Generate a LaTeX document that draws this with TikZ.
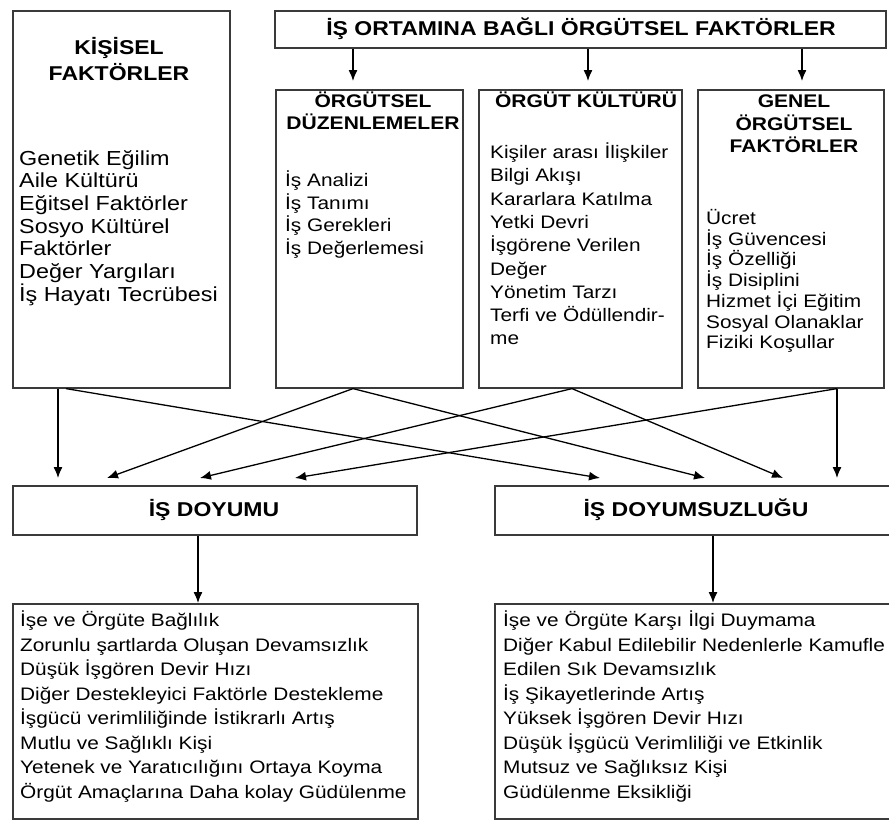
\documentclass[tikz,border=0pt]{standalone}
\usepackage{fontspec}
\setmainfont{Liberation Sans}[FakeStretch=1.15]
\usetikzlibrary{arrows.meta}
\definecolor{boxgray}{HTML}{3A3A3A}
\tikzset{
  box/.style={draw=boxgray, line width=1.6pt, inner sep=0pt, anchor=north west},
  arr/.style={line width=1.3pt, -{Latex[length=11pt,width=9pt]}},
  txt/.style={anchor=base west, inner sep=0pt},
  ttl/.style={anchor=base, inner sep=0pt},
}
\begin{document}
\begin{tikzpicture}[x=1pt,y=-1pt]
\useasboundingbox (0,0) rectangle (889,820);
% boxes
\node[box, minimum width=217pt, minimum height=377pt] (kis) at (12,10) {};
\node[box, minimum width=611pt, minimum height=37pt] (top) at (274,10) {};
\node[box, minimum width=187pt, minimum height=298pt] (dz) at (275,89) {};
\node[box, minimum width=203pt, minimum height=298pt] (kk) at (478,89) {};
\node[box, minimum width=186pt, minimum height=298pt] (gn) at (697,89) {};
\node[box, minimum width=404pt, minimum height=49pt] (doy) at (12,485) {};
\node[box, minimum width=404pt, minimum height=49pt] (dsz) at (494,485) {};
\node[box, minimum width=405pt, minimum height=215pt] (res1) at (12,603) {};
\node[box, minimum width=404pt, minimum height=215pt] (res2) at (494,603) {};

% titles
\node[ttl, font=\fontsize{20}{26}\selectfont\bfseries] (kist) at (119,54)
  {\begin{minipage}[t]{200pt}\centering KİŞİSEL\\FAKTÖRLER\end{minipage}};
\node[ttl, font=\fontsize{20}{25}\selectfont\bfseries] (topt) at (581,35.5)
  {İŞ ORTAMINA BAĞLI ÖRGÜTSEL FAKTÖRLER};
\node[ttl, font=\fontsize{18.3}{21.5}\selectfont\bfseries] (dzt) at (373,107.6)
  {\begin{minipage}[t]{185pt}\centering ÖRGÜTSEL\\DÜZENLEMELER\end{minipage}};
\node[ttl, font=\fontsize{18.3}{24}\selectfont\bfseries] (kkt) at (586,107.6)
  {ÖRGÜT KÜLTÜRÜ};
\node[ttl, font=\fontsize{18.3}{22.5}\selectfont\bfseries] (gnt) at (794,107.6)
  {\begin{minipage}[t]{180pt}\centering GENEL\\ÖRGÜTSEL\\FAKTÖRLER\end{minipage}};
\node[ttl, font=\fontsize{20}{24}\selectfont\bfseries] (doyt) at (214,516) {İŞ DOYUMU};
\node[ttl, font=\fontsize{20}{24}\selectfont\bfseries] (dszt) at (696,516) {İŞ DOYUMSUZLUĞU};

% item lists
\node[txt, font=\fontsize{20.3}{22.7}\selectfont] (kisi) at (19,165)
  {\begin{minipage}[t]{208pt}Genetik Eğilim\\Aile Kültürü\\Eğitsel Faktörler\\Sosyo Kültürel\\Faktörler\\Değer Yargıları\\İş Hayatı Tecrübesi\end{minipage}};
\node[txt, font=\fontsize{18.1}{22.7}\selectfont] (dzi) at (285,186.5)
  {\begin{minipage}[t]{175pt}İş Analizi\\İş Tanımı\\İş Gerekleri\\İş Değerlemesi\end{minipage}};
\node[txt, font=\fontsize{18.1}{23.3}\selectfont] (kki) at (490,158.5)
  {\begin{minipage}[t]{190pt}Kişiler arası İlişkiler\\Bilgi Akışı\\Kararlara Katılma\\Yetki Devri\\İşgörene Verilen\\Değer\\Yönetim Tarzı\\Terfi ve Ödüllendir-\\me\end{minipage}};
\node[txt, font=\fontsize{18.1}{20.7}\selectfont] (gni) at (706,224.5)
  {\begin{minipage}[t]{175pt}Ücret\\İş Güvencesi\\İş Özelliği\\İş Disiplini\\Hizmet İçi Eğitim\\Sosyal Olanaklar\\Fiziki Koşullar\end{minipage}};
\node[txt, font=\fontsize{18.1}{24.5}\selectfont] (r1i) at (20,626.5)
  {\begin{minipage}[t]{395pt}İşe ve Örgüte Bağlılık\\Zorunlu şartlarda Oluşan Devamsızlık\\Düşük İşgören Devir Hızı\\Diğer Destekleyici Faktörle Destekleme\\İşgücü verimliliğinde İstikrarlı Artış\\Mutlu ve Sağlıklı Kişi\\Yetenek ve Yaratıcılığını Ortaya Koyma\\Örgüt Amaçlarına Daha kolay Güdülenme\end{minipage}};
\node[txt, font=\fontsize{18.1}{24.5}\selectfont] (r2i) at (503,626.5)
  {\begin{minipage}[t]{395pt}İşe ve Örgüte Karşı İlgi Duymama\\Diğer Kabul Edilebilir Nedenlerle Kamufle\\Edilen Sık Devamsızlık\\İş Şikayetlerinde Artış\\Yüksek İşgören Devir Hızı\\Düşük İşgücü Verimliliği ve Etkinlik\\Mutsuz ve Sağlıksız Kişi\\Güdülenme Eksikliği\end{minipage}};

% arrows from top box
\draw[arr] ([xshift=79pt]top.south west) -- ([xshift=78pt,yshift=8pt]dz.north west);
\draw[arr] ([xshift=314pt]top.south west) -- ([xshift=110pt,yshift=8pt]kk.north west);
\draw[arr] ([xshift=528pt]top.south west) -- ([xshift=105pt,yshift=8pt]gn.north west);

% crossing arrows
\draw[arr] ([xshift=46pt]kis.south west) -- ([xshift=46pt,yshift=7pt]doy.north west);
\draw[arr] ([xshift=54pt]kis.south west) -- ([xshift=106pt,yshift=7pt]dsz.north west);
\draw[arr] ([xshift=78pt]dz.south west) -- ([xshift=95pt,yshift=7pt]doy.north west);
\draw[arr] ([xshift=78pt]dz.south west) -- ([xshift=211pt,yshift=7pt]dsz.north west);
\draw[arr] ([xshift=94pt]kk.south west) -- ([xshift=188pt,yshift=7pt]doy.north west);
\draw[arr] ([xshift=94pt]kk.south west) -- ([xshift=289pt,yshift=7pt]dsz.north west);
\draw[arr] ([xshift=140pt]gn.south west) -- ([xshift=283pt,yshift=7pt]doy.north west);
\draw[arr] ([xshift=140pt]gn.south west) -- ([xshift=343pt,yshift=7pt]dsz.north west);

% result arrows
\draw[arr] ([xshift=186pt]doy.south west) -- ([xshift=186pt]res1.north west);
\draw[arr] ([xshift=219pt]dsz.south west) -- ([xshift=219pt]res2.north west);
\end{tikzpicture}
\end{document}
